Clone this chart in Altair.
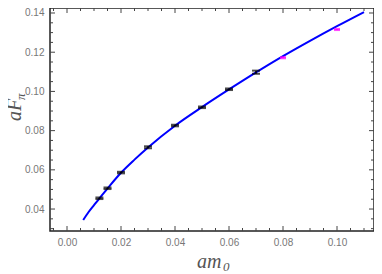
import altair as alt
import pandas as pd

# ---- data ----
curve_x = [0.006, 0.008, 0.010, 0.012, 0.015, 0.020, 0.025, 0.030, 0.040, 0.050,
           0.060, 0.070, 0.080, 0.090, 0.100, 0.110]
curve_y = [0.0344, 0.0385, 0.0420, 0.0455, 0.0505, 0.0585, 0.0652, 0.0714, 0.0825, 0.0920,
           0.1010, 0.1097, 0.1180, 0.1258, 0.1333, 0.1405]

black_x = [0.012, 0.015, 0.020, 0.030, 0.040, 0.050, 0.060, 0.070]
black_y = [0.0455, 0.0506, 0.0586, 0.0715, 0.0826, 0.0919, 0.1011, 0.1098]
black_err = [0.0004, 0.0004, 0.0004, 0.0005, 0.0004, 0.0004, 0.0004, 0.0008]

mag_x = [0.080, 0.100]
mag_y = [0.1172, 0.1316]
mag_err = [0.0003, 0.0003]

x_major = [0.00, 0.02, 0.04, 0.06, 0.08, 0.10]
y_major = [0.04, 0.06, 0.08, 0.10, 0.12, 0.14]
x_minor = [-0.005, 0.005, 0.010, 0.015, 0.025, 0.030, 0.035, 0.045, 0.050, 0.055,
           0.065, 0.070, 0.075, 0.085, 0.090, 0.095, 0.105, 0.110]
y_minor = [0.030, 0.035, 0.045, 0.050, 0.055, 0.065, 0.070, 0.075, 0.085, 0.090,
           0.095, 0.105, 0.110, 0.115, 0.125, 0.130, 0.135]

W, H = 324, 223
xs = alt.Scale(domain=[-0.0063, 0.1137], nice=False, zero=False)
ys = alt.Scale(domain=[0.0288, 0.14255], nice=False, zero=False)

curve = pd.DataFrame({"x": curve_x, "y": curve_y})
blk = pd.DataFrame({"x": black_x, "y": black_y, "e": black_err})
blk["lo"] = blk["y"] - blk["e"]
blk["hi"] = blk["y"] + blk["e"]
mag = pd.DataFrame({"x": mag_x, "y": mag_y, "e": mag_err})
mag["lo"] = mag["y"] - mag["e"]
mag["hi"] = mag["y"] + mag["e"]

lab = dict(grid=False, domain=False, ticks=False, title=None, labelColor="#777",
           labelFont="Liberation Sans", labelFontSize=10, format=".2f", labelPadding=6)
XA = alt.Axis(values=x_major, **lab)
YA = alt.Axis(values=y_major, **lab)


def X(f):
    return alt.X(f, type="quantitative", scale=xs, axis=XA)


def Y(f):
    return alt.Y(f, type="quantitative", scale=ys, axis=YA)


line = alt.Chart(curve).mark_line(color="#0000ff", strokeWidth=2, interpolate="monotone").encode(
    x=X("x"), y=Y("y"))


def err_layers(df, color, cap):
    base = alt.Chart(df)
    r = base.mark_rule(color=color, strokeWidth=1.5).encode(x=X("x"), y=Y("lo"), y2="hi:Q")
    t1 = base.mark_tick(color=color, orient="horizontal", size=cap, thickness=2).encode(
        x=X("x"), y=Y("lo"))
    t2 = base.mark_tick(color=color, orient="horizontal", size=cap, thickness=2).encode(
        x=X("x"), y=Y("hi"))
    return [r, t1, t2]


def xticks(vals, length):
    d = pd.DataFrame({"v": vals})
    b = alt.Chart(d).mark_rule(color="#444", strokeWidth=1).encode(
        x=X("v"), y=alt.value(H), y2=alt.value(H - length))
    t = alt.Chart(d).mark_rule(color="#444", strokeWidth=1).encode(
        x=X("v"), y=alt.value(0), y2=alt.value(length))
    return [b, t]


def yticks(vals, length):
    d = pd.DataFrame({"v": vals})
    l = alt.Chart(d).mark_rule(color="#444", strokeWidth=1).encode(
        y=Y("v"), x=alt.value(0), x2=alt.value(length))
    r = alt.Chart(d).mark_rule(color="#444", strokeWidth=1).encode(
        y=Y("v"), x=alt.value(W), x2=alt.value(W - length))
    return [l, r]


tdf = pd.DataFrame({"a": [0]})
title_font = dict(font="Liberation Serif", fontStyle="italic", color="#555")
xt1 = alt.Chart(tdf).mark_text(text="am", fontSize=20, align="left", baseline="alphabetic", **title_font).encode(
    x=alt.value(147), y=alt.value(260))
xt2 = alt.Chart(tdf).mark_text(text="0", fontSize=13, align="left", baseline="alphabetic", **title_font).encode(
    x=alt.value(173), y=alt.value(263))
yt1 = alt.Chart(tdf).mark_text(text="aF", fontSize=20, align="left", baseline="alphabetic", angle=270, **title_font).encode(
    x=alt.value(-29), y=alt.value(113))
yt2 = alt.Chart(tdf).mark_text(text="π", fontSize=13, align="left", baseline="alphabetic", angle=270, **title_font).encode(
    x=alt.value(-25), y=alt.value(92))

layers = [line]
layers += xticks(x_major, 5) + xticks(x_minor, 3) + yticks(y_major, 5) + yticks(y_minor, 3)
layers += err_layers(blk, "black", 8) + err_layers(mag, "#ff00ff", 6)
layers += [xt1, xt2, yt1, yt2]

chart = alt.layer(*layers).properties(
    width=W, height=H,
    autosize=alt.AutoSizeParams(type="none"),
    padding={"left": 42, "top": 0, "right": 0, "bottom": 43},
).configure_view(stroke="#222", strokeWidth=1.5)

chart.save("out.html", embed_options={"renderer": "svg", "actions": False})
